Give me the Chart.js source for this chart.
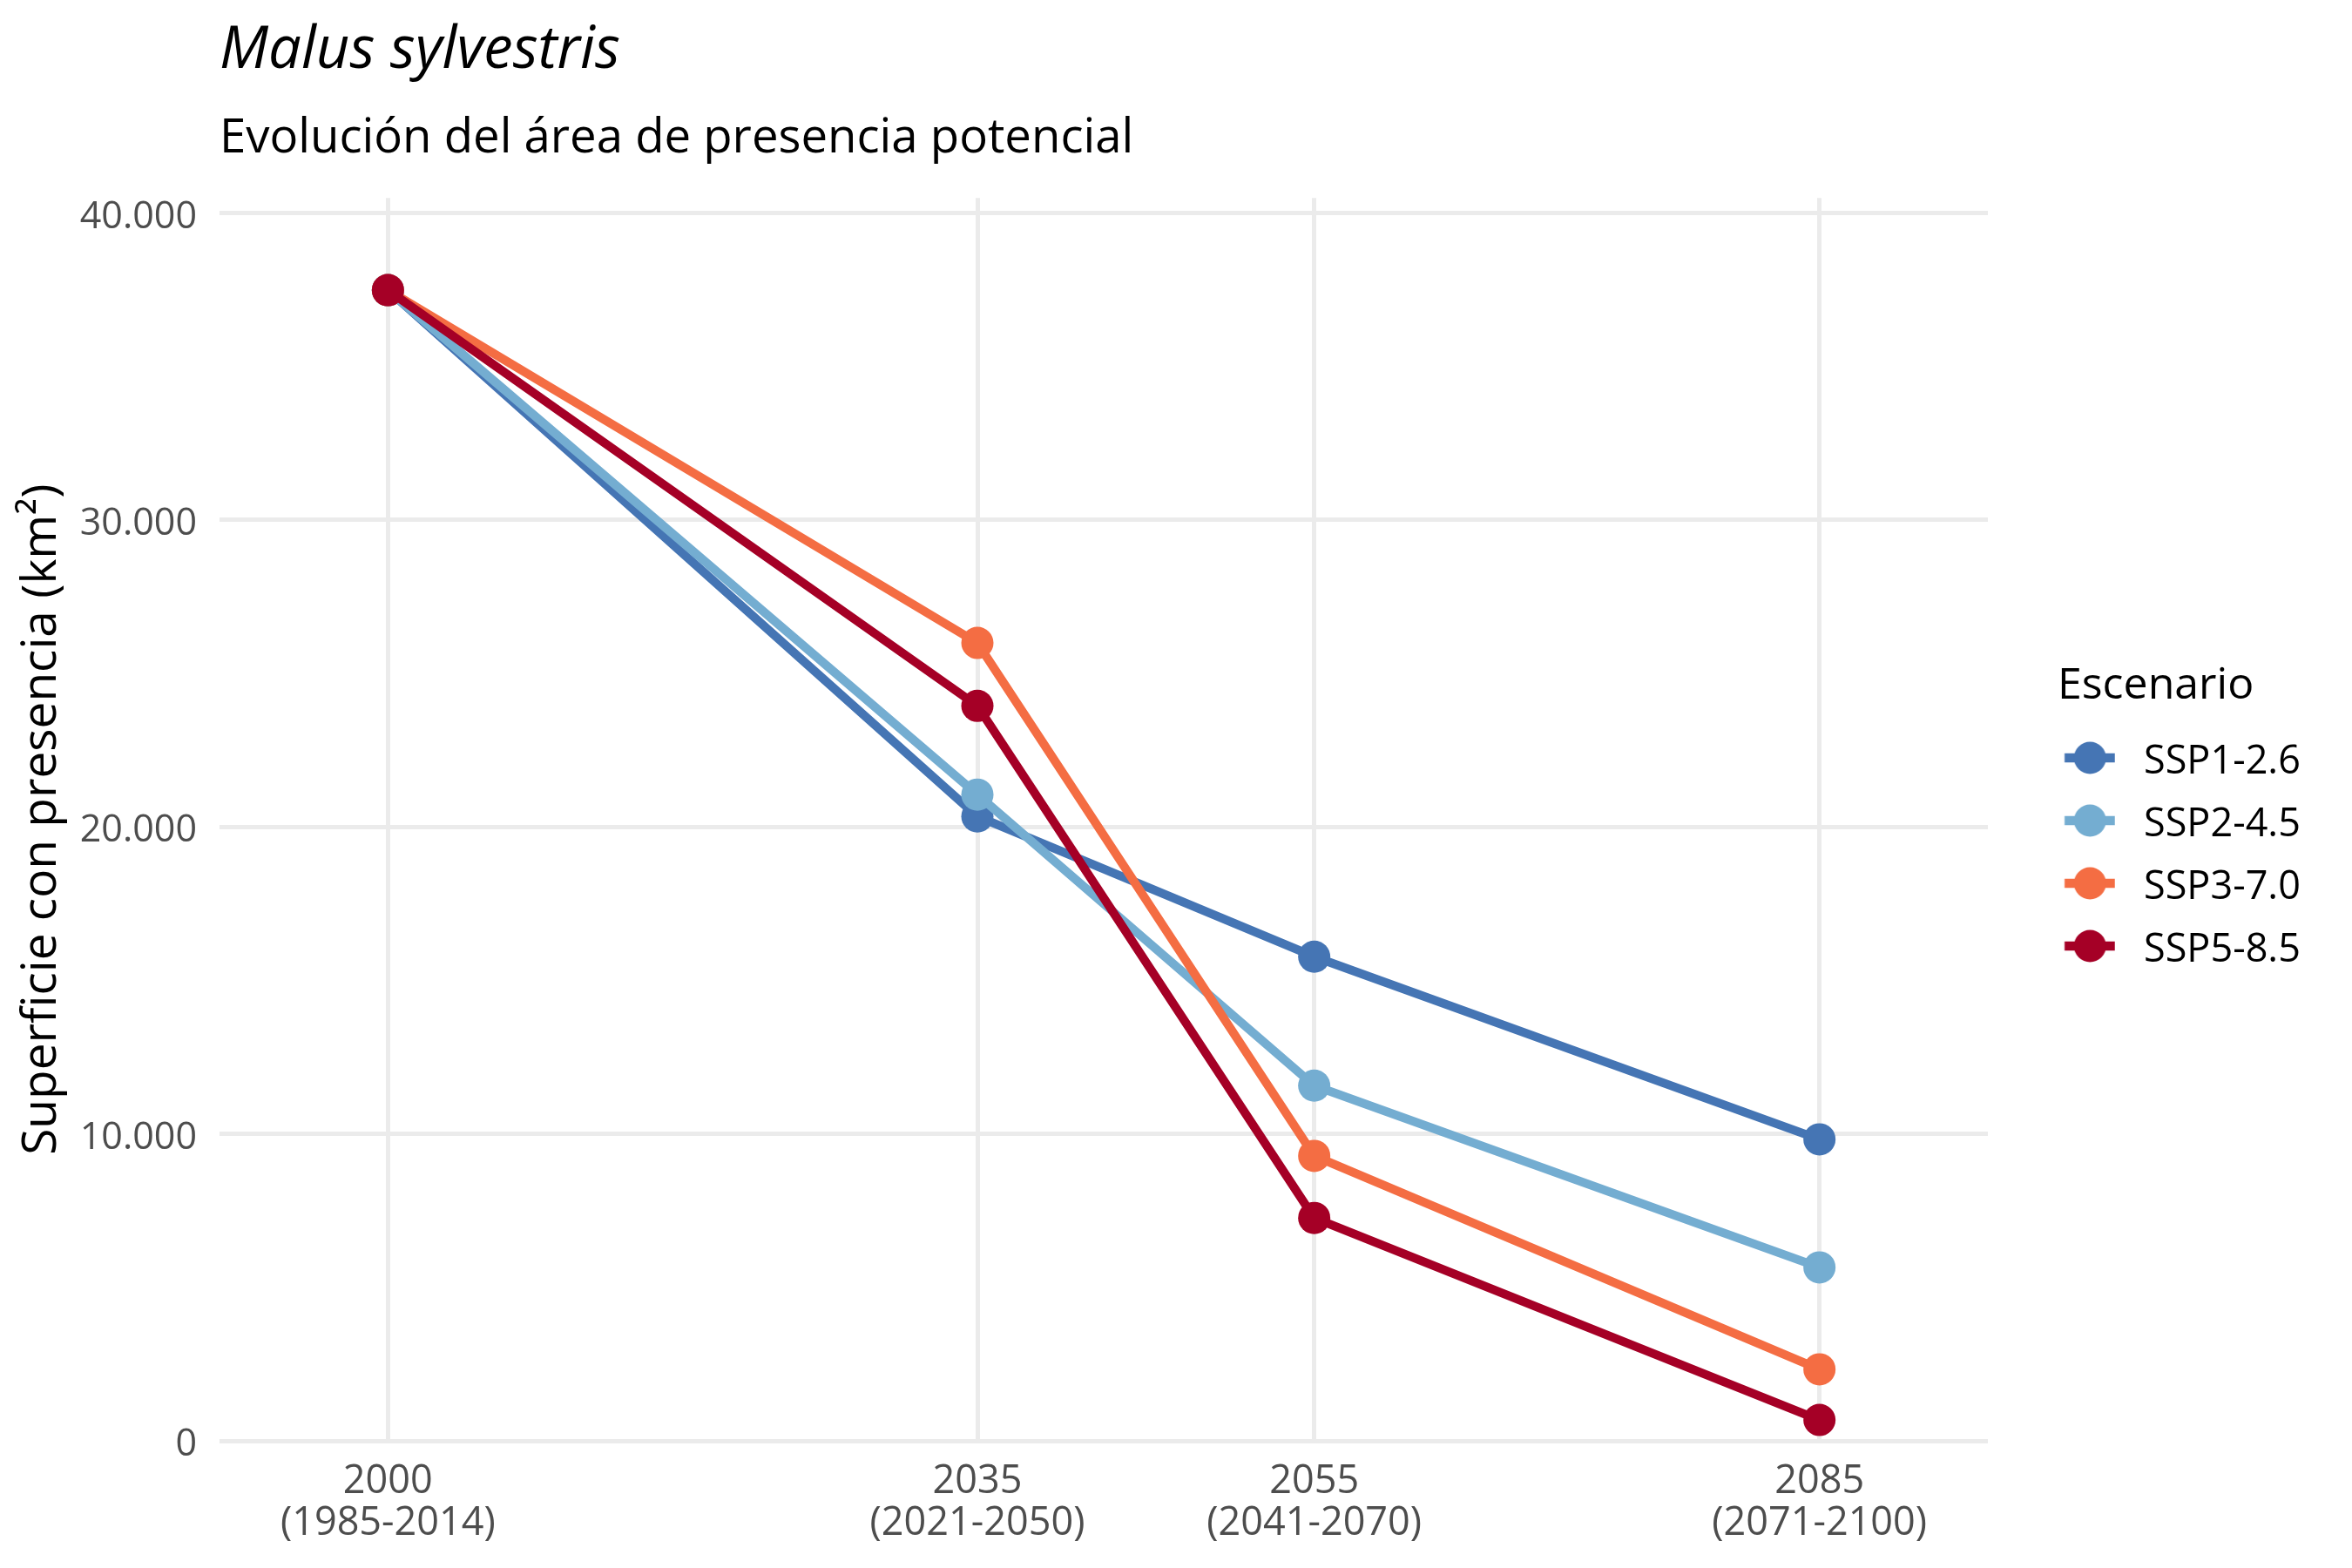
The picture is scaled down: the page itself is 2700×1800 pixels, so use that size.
<!DOCTYPE html>
<html>
<head>
<meta charset="utf-8">
<title>Malus sylvestris</title>
<script src="https://cdn.jsdelivr.net/npm/chart.js"></script>
<style>
  html, body { margin: 0; padding: 0; background: #ffffff; }
  #chart { display: block; }
</style>
</head>
<body>
<canvas id="chart" width="2700" height="1800"></canvas>
<script>
// data
const years = [2000, 2035, 2055, 2085];
const periods = ['(1985-2014)', '(2021-2050)', '(2041-2070)', '(2071-2100)'];
const scenarios = ['SSP1-2.6', 'SSP2-4.5', 'SSP3-7.0', 'SSP5-8.5'];
const ssp126 = [37480, 20340, 15770, 9820];
const ssp245 = [37480, 21050, 11570, 5650];
const ssp370 = [37480, 25990, 9280, 2330];
const ssp585 = [37480, 23940, 7260, 680];
const yTickValues = [0, 10000, 20000, 30000, 40000];
const yTickLabels = ['0', '10.000', '20.000', '30.000', '40.000'];

const colors = ['#4575b4', '#74add1', '#f46d43', '#a50026'];
const seriesValues = [ssp126, ssp245, ssp370, ssp585];

// where the legend should start (left edge of "Escenario")
const LEGEND_LEFT = 2362;

Chart.defaults.font.family = "'Open Sans', 'Noto Sans', sans-serif";

// legend key: a short line with a dot, like ggplot's line+point key
function legendKey(color) {
    const c = document.createElement('canvas');
    c.width = 100;
    c.height = 50;
    const ctx = c.getContext('2d');
    const cx = 35.5;
    const cy = 20;
    ctx.strokeStyle = color;
    ctx.lineWidth = 10.5;
    ctx.lineCap = 'butt';
    ctx.beginPath();
    ctx.moveTo(6.3, cy);
    ctx.lineTo(64, cy);
    ctx.stroke();
    ctx.fillStyle = color;
    ctx.beginPath();
    ctx.arc(cx, cy, 18.5, 0, Math.PI * 2);
    ctx.fill();
    return c;
}

const datasets = scenarios.map((name, i) => ({
    label: name,
    data: years.map((yr, j) => ({ x: yr, y: seriesValues[i][j] })),
    borderColor: colors[i],
    backgroundColor: colors[i],
    pointBackgroundColor: colors[i],
    borderWidth: 10,
    borderJoinStyle: 'round',
    pointRadius: 18.5,
    pointHoverRadius: 18.5,
    pointBorderWidth: 0,
    tension: 0,
    fill: false,
    order: scenarios.length - i,
}));

const ctx = document.getElementById('chart').getContext('2d');

const chart = new Chart(ctx, {
    type: 'line',
    data: { datasets: datasets },
    options: {
        responsive: false,
        animation: false,
        devicePixelRatio: 1,
        layout: {
            padding: { top: 0, right: 0, bottom: 0, left: 0 },
        },
        scales: {
            x: {
                type: 'linear',
                min: 1990,
                max: 2095,
                afterBuildTicks: (scale) => {
                    scale.ticks = years.map((v) => ({ value: v }));
                },
                afterFit: (scale) => {
                    scale.height = 146;
                },
                ticks: {
                    autoSkip: false,
                    maxRotation: 0,
                    minRotation: 0,
                    padding: 23,
                    color: '#4d4d4d',
                    font: { size: 45, lineHeight: 1.076 },
                    callback: (value) => {
                        const i = years.indexOf(value);
                        return i < 0 ? '' : [String(years[i]), periods[i]];
                    },
                },
                grid: {
                    color: '#ebebeb',
                    lineWidth: 5,
                    drawTicks: false,
                },
                border: { display: false },
            },
            y: {
                type: 'linear',
                position: 'left',
                min: 0,
                max: 40482,
                afterBuildTicks: (scale) => {
                    scale.ticks = yTickValues.map((v) => ({ value: v }));
                },
                afterFit: (scale) => {
                    scale.width = 252;
                },
                ticks: {
                    padding: 26,
                    labelOffset: 5,
                    color: '#4d4d4d',
                    font: { size: 43 },
                    callback: (value) => {
                        const i = yTickValues.indexOf(value);
                        return i < 0 ? '' : yTickLabels[i];
                    },
                },
                grid: {
                    color: '#ebebeb',
                    lineWidth: 5,
                    drawTicks: false,
                },
                border: { display: false },
                title: {
                    display: true,
                    text: 'Superficie con presencia (km²)',
                    color: '#000000',
                    font: { size: 55, lineHeight: 1.2 },
                    padding: { top: 15, bottom: 0 },
                },
            },
            // empty axis, only keeps the gap between panel and legend
            gap: {
                type: 'linear',
                position: 'right',
                display: true,
                afterFit: (scale) => {
                    scale.width = 80;
                },
                ticks: { display: false },
                grid: { display: false },
                border: { display: false },
            },
        },
        plugins: {
            title: {
                display: true,
                text: 'Malus sylvestris',
                align: 'start',
                fullSize: false,
                color: '#000000',
                font: { size: 67, style: 'italic', weight: 'normal', lineHeight: 1.2 },
                padding: { top: 19, bottom: 0 },
            },
            subtitle: {
                display: true,
                text: 'Evolución del área de presencia potencial',
                align: 'start',
                fullSize: false,
                color: '#000000',
                font: { size: 54.5, weight: 'normal', lineHeight: 1.2 },
                padding: { top: 27, bottom: 35.5 },
            },
            legend: {
                display: true,
                position: 'right',
                align: 'start',
                title: {
                    display: true,
                    text: 'Escenario',
                    position: 'start',
                    color: '#000000',
                    font: { size: 50, lineHeight: 1 },
                    padding: { top: 763, bottom: 12.5 },
                },
                labels: {
                    usePointStyle: true,
                    pointStyleWidth: 49.5,
                    padding: 27,
                    color: '#000000',
                    font: { size: 45 },
                    generateLabels: (chart) => chart.data.datasets.map((ds, i) => ({
                        text: ds.label,
                        pointStyle: legendKey(ds.borderColor),
                        fillStyle: ds.borderColor,
                        strokeStyle: ds.borderColor,
                        fontColor: '#000000',
                        lineWidth: 0,
                        hidden: false,
                        datasetIndex: i,
                    })),
                },
            },
            tooltip: { enabled: false },
        },
    },
});

// push the legend so it starts where the reference has it
const shift = chart.legend.left - LEGEND_LEFT;
if (Math.abs(shift) > 0.5) {
    chart.options.layout.padding.right += shift;
    chart.update();
}
</script>
</body>
</html>
